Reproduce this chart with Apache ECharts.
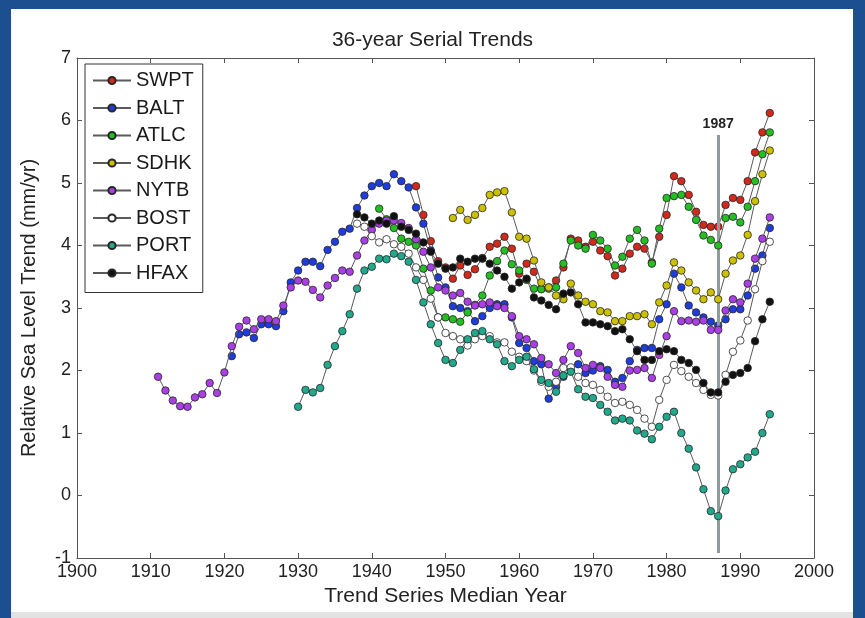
<!DOCTYPE html>
<html>
<head>
<meta charset="utf-8">
<script src="https://cdn.jsdelivr.net/npm/echarts@6/dist/echarts.min.js"></script>
<style>
  html, body { margin: 0; padding: 0; background: #ffffff; }
  #wrap { position: relative; width: 865px; height: 618px; overflow: hidden; }
  #chart { position: absolute; left: 0; top: 0; width: 865px; height: 618px; }
  .band { position: absolute; background: #1b4f8f; pointer-events: none; }
</style>
</head>
<body>
<div id="wrap">
  <div id="chart"></div>
  <div class="band" style="left:0;top:0;width:865px;height:9px;"></div>
  <div class="band" style="left:0;top:0;width:11px;height:618px;"></div>
  <div class="band" style="left:853px;top:0;width:12px;height:618px;"></div>
  <div class="band" style="left:11px;top:612px;width:842px;height:6px;background:#e2e2e2;"></div>
</div>
<script>
// ---- data (one value per median year) ----
const seriesNames = ['SWPT', 'BALT', 'ATLC', 'SDHK', 'NYTB', 'BOST', 'PORT', 'HFAX'];
const startYears = { SWPT: 1946, BALT: 1921, ATLC: 1941, SDHK: 1951, NYTB: 1911, BOST: 1938, PORT: 1930, HFAX: 1938 };

const SWPT = [4.95,4.49,4.07,3.75,3.65, 3.47,3.68,3.53,3.62,3.80, 3.98,4.03,4.14,3.95,3.55,
  3.71,3.58,3.31,3.33,3.44, 3.65,4.11,4.08,3.98,4.06, 3.92,3.83,3.52,3.63,3.87,
  3.98,3.95,3.73,4.14,4.49, 5.11,5.03,4.81,4.54,4.33, 4.30,4.30,4.65,4.76,4.73, 5.03,5.49,5.81,6.12];
const BALT = [2.23,2.58,2.61,2.52,2.74, 2.74,2.71,2.95,3.41,3.60, 3.74,3.74,3.67,3.93,4.06,
  4.22,4.27,4.60,4.80,4.95, 5.00,4.95,5.14,5.03,4.93, 4.61,4.35,3.92,3.49,3.33,
  3.03,3.00,2.95,2.79,2.87, 3.00,3.06,3.06,2.85,2.44, 2.36,2.15,2.10,1.55,1.74,
  1.90,2.01,2.10,1.96,2.00, 2.07,2.01,1.82,1.88,2.15, 2.33,2.36,2.36,2.82,3.06,
  3.55,3.33,3.04,2.93,2.85, 2.78,2.72,2.82,2.98,2.98, 3.20,3.63,3.84,4.28];
const ATLC = [4.59,4.42,4.28,4.11,4.06, 4.00,3.63,3.28,2.85,2.85, 2.82,2.78,2.93,3.05,3.20,
  3.52,3.75,3.92,3.70,3.60, 3.45,3.31,3.30,3.31,3.33, 3.71,4.08,4.00,3.95,4.17,
  4.08,3.95,3.68,3.82,4.11, 4.25,4.08,3.71,4.27,4.76, 4.79,4.81,4.62,4.41,4.16,
  4.09,4.00,4.44,4.46,4.37, 4.62,5.03,5.46,5.81];
const SDHK = [4.44,4.57,4.41,4.49,4.60, 4.81,4.85,4.87,4.53,4.14, 4.11,3.76,3.41,3.33,3.20,
  3.14,3.39,3.20,3.10,3.06, 2.95,2.93,2.79,2.79,2.87, 2.87,2.90,2.74,3.09,3.36,
  3.73,3.60,3.41,3.28,3.14, 3.25,3.14,3.55,3.76,3.84, 4.17,4.71,5.14,5.52];
const NYTB = [1.90,1.68,1.52,1.43,1.42, 1.57,1.62,1.80,1.64,1.97, 2.39,2.70,2.80,2.66,2.82,
  2.82,2.79,3.04,3.33,3.44, 3.42,3.29,3.17,3.36,3.48, 3.60,3.58,3.84,4.08,4.25,
  4.35,4.40,4.40,4.36,4.28, 4.10,3.90,3.65,3.33,3.28, 3.20,3.24,3.10,3.04,3.06,
  3.09,3.03,3.00,2.87,2.55, 2.50,2.42,2.20,2.10,1.96, 2.17,2.39,2.28,2.04,2.09,
  2.04,1.90,1.77,1.74,2.00, 2.01,2.04,1.88,2.25,2.55, 2.95,2.79,2.80,2.78,2.80,
  2.65,2.65,2.96,3.14,3.09, 3.39,3.79,4.11,4.45];
const BOST = [4.35,4.30,4.15,4.05,4.10, 4.02,3.98,3.87,3.65,3.45, 3.15,2.85,2.60,2.55,2.50,
  2.40,2.50,2.55,2.55,2.45, 2.45,2.30,2.22,2.15,2.00, 1.82,1.74,1.82,2.04,2.05,
  1.90,1.80,1.77,1.69,1.58, 1.48,1.50,1.45,1.37,1.23, 1.10,1.53,1.85,2.09,1.99,
  1.90,1.80,1.69,1.61,1.60, 1.93,2.30,2.48,2.80,3.30, 3.75,4.06];
const PORT = [1.42,1.69,1.65,1.72,2.09, 2.39,2.63,2.90,3.31,3.60, 3.66,3.79,3.78,3.87,3.83,
  3.74,3.45,3.09,2.74,2.44, 2.17,2.12,2.33,2.50,2.60, 2.63,2.50,2.42,2.15,2.07,
  2.17,2.22,2.02,1.85,1.80, 1.66,1.92,1.98,1.70,1.58, 1.56,1.45,1.34,1.20,1.23,
  1.20,1.04,0.99,0.90,1.10, 1.26,1.34,1.00,0.75,0.45, 0.10,-0.25,-0.33,0.08,0.42,
  0.50,0.61,0.70,1.00,1.30];
const HFAX = [4.50,4.45,4.35,4.40,4.35, 4.47,4.30,4.25,4.19,4.05, 3.90,3.71,3.63,3.65,3.79,
  3.74,3.79,3.79,3.71,3.60, 3.50,3.31,3.41,3.47,3.17, 3.12,3.05,2.98,3.23,3.25,
  3.06,2.77,2.77,2.74,2.71, 2.63,2.66,2.50,2.31,2.17, 2.17,2.31,2.34,2.31,2.17,
  2.12,2.01,1.80,1.65,1.65, 1.82,1.93,1.96,2.04,2.47, 2.82,3.10];

const seriesValues = { SWPT, BALT, ATLC, SDHK, NYTB, BOST, PORT, HFAX };
const markerColors = { SWPT: '#d3281c', BALT: '#1f3ddc', ATLC: '#24bf22', SDHK: '#cdc000',
  NYTB: '#a93fe4', BOST: '#ffffff', PORT: '#22a98c', HFAX: '#111111' };

const xTicks = { min: 1900, max: 2000, step: 10 };
const yTicks = { min: -1, max: 7, step: 1 };
const refYear = 1987;
const refLineSpan = [5.77, -0.92];

// ---- chart ----
const FONT = "'Liberation Sans', Arial, Helvetica, sans-serif";
const chart = echarts.init(document.getElementById('chart'), null, { renderer: 'canvas' });

const axisCommon = {
  type: 'value',
  axisLine: { show: true, onZero: false, lineStyle: { color: '#555', width: 1 } },
  axisTick: { show: true, inside: true, length: 5, lineStyle: { color: '#555' } },
  splitLine: { show: false },
};

const series = seriesNames.map((name, idx) => {
  const s = {
    name: name,
    type: 'line',
    data: seriesValues[name].map((v, i) => [startYears[name] + i, v]),
    symbol: 'circle',
    symbolSize: 7.5,
    showSymbol: true,
    lineStyle: { color: '#5a5a5a', width: 1 },
    itemStyle: { color: markerColors[name], borderColor: '#262626', borderWidth: 0.8 },
    emphasis: { disabled: true },
    z: 3 + idx,
  };
  if (idx === 0) {
    s.markLine = {
      silent: true,
      symbol: ['none', 'none'],
      animation: false,
      lineStyle: { color: '#8e9c9c', width: 3, type: 'solid' },
      label: { show: true, position: 'start', formatter: String(refYear), fontFamily: FONT,
               fontSize: 14, fontWeight: 'bold', color: '#222', distance: 4 },
      data: [[ { coord: [refYear, refLineSpan[0]] }, { coord: [refYear, refLineSpan[1]] } ]],
    };
  }
  return s;
});

chart.setOption({
  animation: false,
  backgroundColor: '#ffffff',
  textStyle: { fontFamily: FONT },
  title: {
    text: '36-year Serial Trends',
    left: 'center',
    top: 25,
    textStyle: { fontFamily: FONT, fontSize: 21, fontWeight: 'normal', color: '#222' },
  },
  grid: { left: 77, right: 51, top: 58, bottom: 60 },
  legend: {
    data: seriesNames,
    orient: 'vertical',
    left: 85,
    top: 64,
    itemWidth: 38,
    itemHeight: 9,
    itemGap: 6.5,
    padding: [6, 9, 9, 7],
    backgroundColor: '#ffffff',
    borderColor: '#333',
    borderWidth: 1,
    selectedMode: false,
    textStyle: { fontFamily: FONT, fontSize: 20, color: '#1a1a1a', lineHeight: 21 },
  },
  xAxis: [
    Object.assign({}, axisCommon, {
      min: xTicks.min, max: xTicks.max, interval: xTicks.step, position: 'bottom',
      axisLabel: { fontFamily: FONT, fontSize: 18, color: '#222', margin: 5,
                   formatter: (v) => String(v) },
      name: 'Trend Series Median Year', nameLocation: 'middle', nameGap: 28,
      nameTextStyle: { fontFamily: FONT, fontSize: 21, color: '#222' },
    }),
    Object.assign({}, axisCommon, {
      min: xTicks.min, max: xTicks.max, interval: xTicks.step, position: 'top',
      axisLabel: { show: false },
    }),
  ],
  yAxis: [
    Object.assign({}, axisCommon, {
      min: yTicks.min, max: yTicks.max, interval: yTicks.step, position: 'left',
      axisLabel: { fontFamily: FONT, fontSize: 18, color: '#222', margin: 6 },
      name: 'Relative Sea Level Trend (mm/yr)', nameLocation: 'middle', nameGap: 38,
      nameTextStyle: { fontFamily: FONT, fontSize: 20, color: '#222' },
    }),
    Object.assign({}, axisCommon, {
      min: yTicks.min, max: yTicks.max, interval: yTicks.step, position: 'right',
      axisLabel: { show: false },
    }),
  ],
  series: series,
});
</script>
</body>
</html>
